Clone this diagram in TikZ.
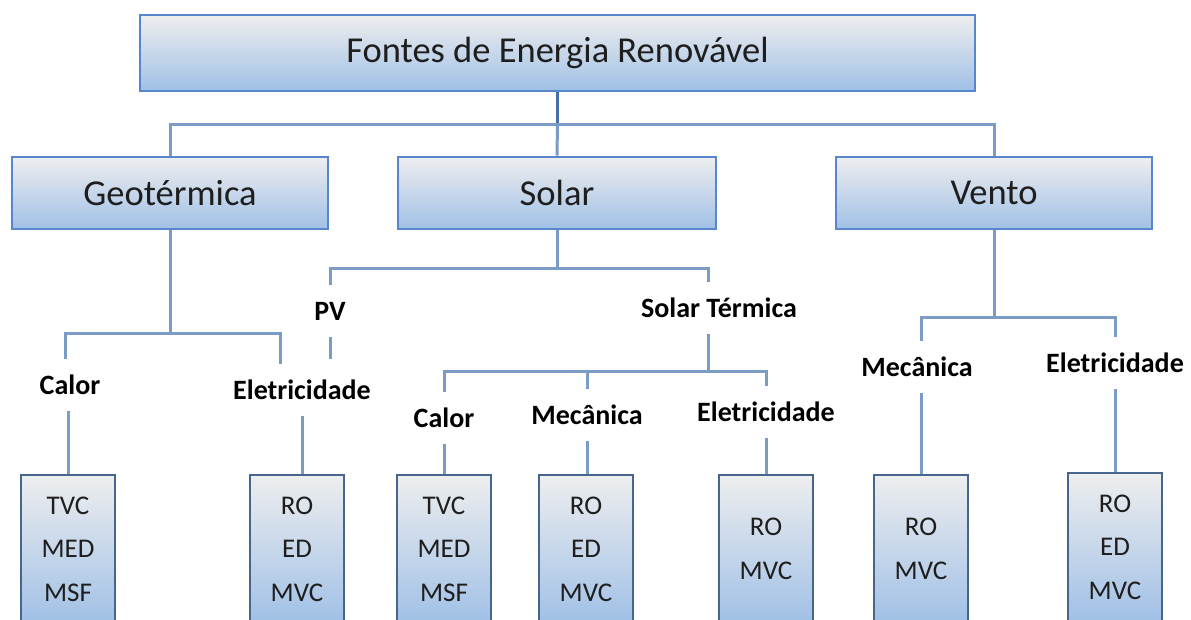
\documentclass[tikz,border=0pt]{standalone}
\usepackage{fontspec}
\setmainfont{Carlito}
\definecolor{bd}{RGB}{88,134,204}
\definecolor{bdl}{RGB}{70,102,142}
\definecolor{cn}{RGB}{122,156,198}
\definecolor{cnd}{RGB}{70,110,170}
\definecolor{txt}{RGB}{30,30,30}
\definecolor{gtop}{RGB}{238,238,238}
\definecolor{gmid}{RGB}{212,214,218}
\definecolor{gbot}{RGB}{160,192,230}
\begin{document}
\begin{tikzpicture}[x=1pt,y=-1pt,
  box/.style={draw=bd, line width=2.6pt, top color=gtop, middle color=gmid, bottom color=gbot,
    inner sep=0pt, text=txt, font=\fontsize{36.5}{40}\selectfont},
  leaf/.style={draw=bdl, line width=2.6pt, top color=gtop, middle color=gmid, bottom color=gbot,
    inner sep=0pt, text=txt, minimum width=94pt, minimum height=148pt, align=center,
    font=\fontsize{27}{43.5}\selectfont},
  lbl/.style={inner sep=0pt, minimum height=52pt, text=black, font=\bfseries\fontsize{28}{30}\selectfont},
  conn/.style={draw=cn, line width=3pt},
  trunk/.style={draw=cnd, line width=3pt}]
\path[use as bounding box, clip] (0,0) rectangle (1191,619);
\fill[white] (0,0) rectangle (1191,619);

% main boxes
\node[box, minimum width=835pt, minimum height=76pt] (top) at (557.5,53) {Fontes de Energia Renovável};
\node[box, minimum width=316pt, minimum height=72pt] (geo) at (170,193) {Geotérmica};
\node[box, minimum width=318pt, minimum height=72pt] (sol) at (557,193) {Solar};
\node[box, minimum width=316pt, minimum height=72pt] (ven) at (994,193) {Vento};

% labels
\node[lbl] (gCal) at (70,385) {Calor};
\node[lbl] (gEle) at (302,390) {Eletricidade};
\node[lbl] (pv) at (330,311) {PV};
\node[lbl] (st) at (719,308) {Solar Térmica};
\node[lbl] (sCal) at (444,418) {Calor};
\node[lbl] (sMec) at (587,415) {Mecânica};
\node[lbl] (sEle) at (766,412) {Eletricidade};
\node[lbl] (vMec) at (917,367) {Mecânica};
\node[lbl] (vEle) at (1115,363) {Eletricidade};

% leaves
\node[leaf] (l1) at (68,549) {TVC\\MED\\MSF};
\node[leaf] (l2) at (297,549) {RO\\ED\\MVC};
\node[leaf] (l3) at (444,549) {TVC\\MED\\MSF};
\node[leaf] (l4) at (586,549) {RO\\ED\\MVC};
\node[leaf] (l5) at (766,549) {RO\\MVC};
\node[leaf] (l6) at (921,549) {RO\\MVC};
\node[leaf] (l7) at (1115,547) {RO\\ED\\MVC};

% helper coordinates
\coordinate (b1) at (0,124);
\coordinate (gL) at (65,333);
\coordinate (gR) at (280,333);
\coordinate (sb) at (0,268);
\coordinate (stx) at (708,0);
\coordinate (ssb) at (0,371);
\coordinate (pvEnd) at (330,359);
\coordinate (vb) at (0,317);

% level 1
\draw[trunk] (top.south) -- (top.south |- b1);
\draw[conn] (top.south |- b1) -- (sol.north);
\draw[conn] (geo.north) |- (ven.north |- b1) -- (ven.north);

% geotermica
\draw[conn] (geo.south) -- (geo.south |- gL);
\draw[conn] (gCal.north -| gL) |- (gR) -- (gR |- gEle.north);
\draw[conn] (gCal.south -| l1.north) -- (l1.north);
\draw[conn] (gEle.south) -- (gEle.south |- l2.north);

% solar
\draw[conn] (sol.south) -- (sol.south |- sb);
\draw[conn] (pv.north) |- (stx |- sb) -- (stx |- st.north);
\draw[conn] (pv.south) -- (pvEnd);
\draw[conn] (stx |- st.south) -- (stx |- ssb);
\draw[conn] (sCal.north) |- (sEle.north |- ssb) -- (sEle.north);
\draw[conn] (sMec.north) -- (sMec.north |- ssb);
\draw[conn] (sCal.south) -- (sCal.south |- l3.north);
\draw[conn] (sMec.south) -- (sMec.south |- l4.north);
\draw[conn] (sEle.south) -- (sEle.south |- l5.north);

% vento
\draw[conn] (ven.south) -- (ven.south |- vb);
\draw[conn] (vMec.north -| l6.north) |- (vEle.north |- vb) -- (vEle.north);
\draw[conn] (vMec.south -| l6.north) -- (l6.north);
\draw[conn] (vEle.south) -- (vEle.south |- l7.north);
\end{tikzpicture}
\end{document}
